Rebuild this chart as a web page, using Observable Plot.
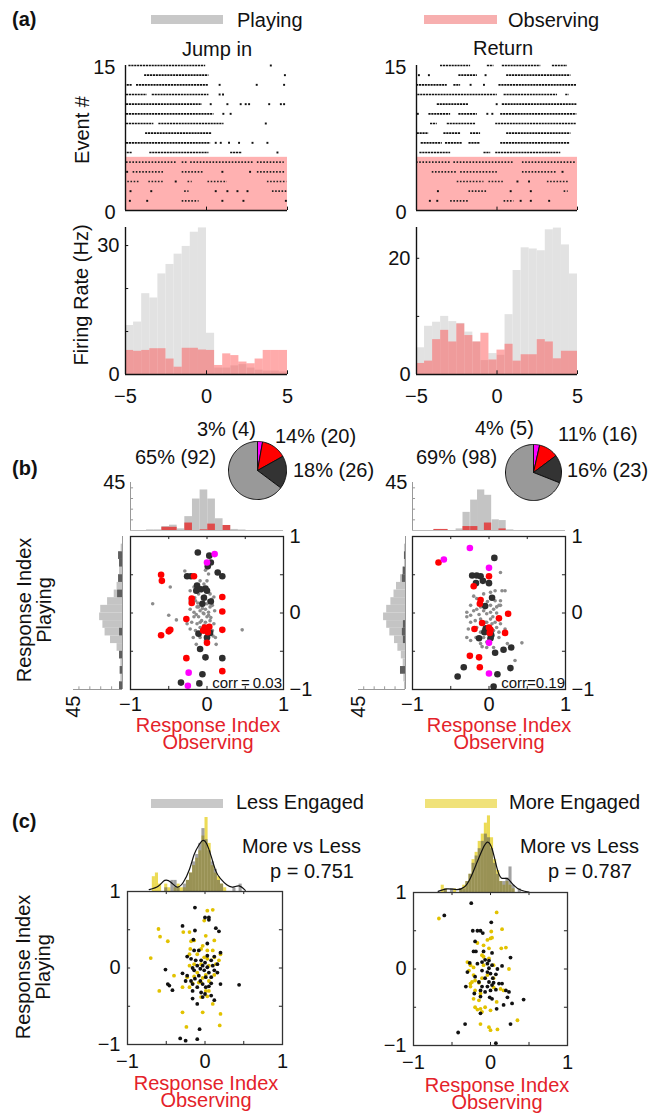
<!DOCTYPE html>
<html><head><meta charset="utf-8">
<script src="https://cdn.jsdelivr.net/npm/d3@7"></script>
<script src="https://cdn.jsdelivr.net/npm/@observablehq/plot@0.6"></script>
<style>
body{margin:0;background:#fff;}
#fig{position:relative;width:652px;height:1113px;overflow:hidden;font-family:"Liberation Sans",Arial,Helvetica,sans-serif;background:#fff;}
.lbl{position:absolute;white-space:nowrap;line-height:0.8;font-size:20px;color:#111;}
.blk{position:absolute;white-space:pre;text-align:center;font-size:20px;line-height:16.5px;transform:translate(-50%,0);}
.sw{position:absolute;}
</style></head><body><div id="fig"></div><script>
// ================= DATA =================
const legendA = ["Playing", "Observing"];
const titlesA = ["Jump in", "Return"];
const eventTicks = [0, 15];
const timeTicks = [-5, 0, 5];
const observingEvents = [{from: 0, to: 5.5}];
// raster: [event row, burst start, burst end] (s)
const jumpBursts = [
[15,-4.79,-0.05],[14,-3.82,0.15],[13,-4.9,-4.59],[13,-4.32,0.15],[12,-4.94,-3.66],[12,-3.35,0.15],
[11,-4.94,-0.26],[10,-4.94,0.46],[9,-4.94,-3.25],[9,-2.94,1.08],[8,-3.76,0.36],[7,-4.94,0.26],
[6,-4.9,-4.59],[6,-3.5,0.15],[6,1.49,2.22],
[5,-4.94,-1.8],[5,-1.5,-1.2],[5,-0.98,2.94],[5,3.14,4.8],
[4,-4.53,-2.63],[4,-1.5,-0.15],[4,3.14,4.9],
[3,-4.86,-4.07],[3,-3.56,-2.63],[3,-1.14,-0.88],[3,0.09,1.29],[3,3.76,4.96],
[2,-1.35,-1.08],[2,4.07,4.96],[1,-1.5,-0.46]];
const jumpSpikes = [
[15,3.97],[14,4.84],[13,0.81],[13,3.1],[13,4.79],[12,0.81],[12,1.02],
[11,0.26],[11,1.29],[11,2.11],[11,2.42],[11,2.63],[11,3.87],[11,4.59],[11,4.79],
[10,1.04],[10,1.49],[9,3.66],[7,0.57],[7,0.88],[7,1.39],[7,2.01],[7,2.84],[7,3.76],[6,4.38],
[4,-4.9],[4,0.98],[4,2.69],[3,-1.9],
[2,-4.69],[2,-3.41],[2,0.57],[2,1.29],[2,1.91],[2,2.53],
[1,-4.73],[1,-3.66],[1,0.98],[1,2.28],[1,4.9]];
const returnBursts = [
[15,-3.51,-1.64],[15,-0.6,-0.19],[15,0.33,2.72],[15,3.44,4.38],
[14,-2.37,-1.22],[14,0.6,4.59],
[13,-5,-3.09],[13,-2.68,-2.26],[13,0.12,4.96],
[12,-4.92,0.02],[12,0.44,3.76],[12,4.27,4.48],
[11,-3.71,-1.74],[11,0.33,4.96],
[10,-4.23,-2.88],[10,-2.37,-1.22],[10,0.23,4.96],
[9,-4.13,-3.71],[9,-3.09,-1.33],[9,-0.08,4.96],
[8,-4.96,-4.23],[8,-3.3,-2.26],[8,-1.64,-1.02],[8,0.6,4.59],
[7,-4.71,-3.4],[7,-3.2,-2.16],[7,-1.74,-1.02],[7,0.23,4.54],
[6,-4.79,-2.88],[6,-0.81,-0.39],[6,-0.08,3.96],
[5,-5,-2.88],[5,-2.68,1.02],[5,1.58,4.96],
[4,-4.02,-2.47],[4,-2.26,0.02],[4,1.58,3.76],
[3,-2.47,-0.81],[3,-0.5,0.44],[3,3.13,4.48],
[2,-1.74,-0.6],[2,4.17,4.42],[1,-2.88,-1.74],[1,0.44,1.06]];
const returnSpikes = [
[14,-4.85],[14,-4.23],[14,-0.71],[13,-1.64],[13,-0.81],[11,-0.02],
[10,-4.92],[10,-0.6],[10,-0.29],[4,4.07],[3,1.27],[3,1.99],
[2,-3.67],[2,0.85],[2,2.1],[1,-4.17],[1,-3.71],[1,1.47],[1,2.1],[1,3.24]];
// firing rate histograms (Hz), 0.5 s bins
const rateBinEdges = [-5,-4.5,-4,-3.5,-3,-2.5,-2,-1.5,-1,-0.5,0,0.5,1,1.5,2,2.5,3,3.5,4,4.5,5];
const jumpPlaying   = [11.4,12.2,18.8,17.8,23.4,25.6,28,29.8,33.1,34.1,9.6,1.5,1.5,2.0,2.3,1.5,1.0,0.8,0.8,0.6];
const jumpObserving = [5.6,5.4,5.6,6.0,6.0,3.6,1.7,6.1,6.1,5.7,5.6,2.1,4.8,4.4,2.9,2.5,3.6,5.6,5.6,5.6];
const returnPlaying   = [4.6,8.3,9.0,10.0,9.1,8.8,7.3,5.6,2.4,3.6,3.3,10.3,17.9,21.8,21.6,21.3,24.9,25.2,22.3,17.3];
const returnObserving = [1.9,2.3,6.0,7.6,5.6,8.7,6.7,5.6,7.1,2.5,4.2,5.2,2.3,3.4,3.4,6.0,5.6,2.7,4.0,4.0];
const jumpRateTicks = [0, 30], jumpRateMinor = [10, 20, 30], jumpRateMax = 34.2;
const returnRateTicks = [0, 20], returnRateMinor = [10, 20], returnRateMax = 25.3;
// pies
const pieColors = ["#ff00ff", "#ff0000", "#333333", "#999999"];
const jumpPieCounts = [4, 20, 26, 92];
const jumpPieLabels = ["3% (4)", "14% (20)", "18% (26)", "65% (92)"];
const returnPieCounts = [5, 16, 23, 98];
const returnPieLabels = ["4% (5)", "11% (16)", "16% (23)", "69% (98)"];
// (b) marginal histograms (counts)
const histMaxB = 45, histMinorB = [10, 20, 30, 40];
const obsStartsJ = [-0.79,-0.69,-0.59,-0.49,-0.39,-0.29,-0.19,-0.09,0.01,0.11,0.21,0.31,0.41];
const obsAllJ    = [0.6,0.6,3.7,5,1.5,13,29.5,38,29.5,11,4.7,1,0.5];
const obsRespJ   = [0,0,3,3,0,7,0,0.6,6,0,4.7,0,0];
const obsWidthJ = 0.1;
const obsStartsR = [-0.72,-0.63,-0.53,-0.43,-0.34,-0.24,-0.15,-0.06,0.04,0.13,0.23];
const obsAllR    = [0.6,0.6,0,1.5,17,28.5,38,33,10,9.3,0.6];
const obsRespR   = [1,1,0,0,3.7,3.7,0,7,0,1.5,0];
const obsWidthR = 0.095;
const playStarts = [-1.0,-0.9,-0.8,-0.7,-0.6,-0.5,-0.4,-0.3,-0.2,-0.1,0.0,0.1,0.2,0.3,0.4,0.5,0.6,0.7,0.8];
const playAllJ  = [2.7,1.5,2.1,1.5,2.7,5,11,16,18,21,20,13.7,7.6,5,3.6,2.7,2.7,3.6,1.2];
const playRespJ = [2.7,0,2.1,0,2.7,0,0,2.7,0,0,0,0,4.5,0,3.6,0,2.7,3.6,0];
const playAllR  = [1,1.6,4.8,2.2,4,7.3,10.5,15,18,21,18,14,11,8.6,4.8,2.2,1,1,1];
const playRespR = [0,0,4.8,0,0,0,2,3,2,0,0,0,0,0,3,2.2,0,1,0];
const playWidth = 0.1;
// (b) scatter: [observing index, playing index]
const jumpNone = [[-0.29,0.55],[-0.48,0.34],[-0.71,0.12],[-0.50,-0.03],[-0.40,-0.09],[-0.17,0.01],[-0.13,0.08],[-0.09,0.03],[-0.04,-0.01],[-0.11,-0.05],[-0.07,-0.10],[-0.02,-0.12],[-0.13,-0.14],[-0.09,-0.19],[-0.15,-0.23],[-0.09,-0.32],[-0.02,-0.36],[0.12,-0.41],[0.04,-0.19],[0.09,-0.14],[0.10,0.03],[0.07,0.10],[0.02,0.16],[0.09,0.21],[0.04,0.25],[-0.04,0.38],[-0.09,0.42],[0.00,0.42],[0.02,0.51],[-0.17,0.34],[-0.22,0.16],[-0.15,0.16],[-0.11,0.25],[-0.02,0.05],[0.02,0.01],[-0.07,0.10],[-0.14,-0.02],[-0.20,-0.12],[-0.22,-0.21],[-0.13,-0.27],[-0.18,-0.32],[-0.14,-0.41],[-0.22,0.05],[-0.26,-0.14],[0.00,-0.05],[0.04,-0.10],[0.07,-0.23],[0.01,-0.27],[0.11,-0.32],[0.46,-0.22],[-0.07,0.29],[-0.02,0.56],[-0.22,0.29],[-0.09,-0.12],[-0.04,-0.16],[-0.11,0.08],[-0.17,-0.05],[0.04,0.08],[0.00,0.12],[-0.03,0.22],[-0.05,0.00],[0.02,-0.03],[-0.06,0.06],[0.05,-0.06],[-0.12,0.13],[0.06,0.18],[-0.03,-0.25],[0.08,-0.30],[-0.16,0.20],[0.00,0.30]];
const jumpPlay = [[-0.12,0.79],[0.03,0.75],[0.05,0.66],[0.01,0.61],[0.14,0.53],[0.20,0.48],[-0.26,0.48],[-0.21,0.48],[-0.13,0.36],[-0.02,0.32],[0,0.29],[-0.14,0.29],[-0.04,0.20],[-0.06,0.12],[-0.11,-0.27],[0.04,-0.26],[0,-0.32],[-0.09,-0.47],[-0.02,-0.58],[0.20,-0.59],[-0.06,-0.80],[-0.34,-0.91],[-0.10,-0.92],[-0.08,0.31],[0.05,0.15],[-0.02,-0.22]];
const jumpObs = [[-0.60,0.50],[-0.59,0.42],[-0.17,0.48],[-0.20,0.19],[-0.20,0.13],[0.20,0.21],[0.20,0.02],[-0.27,-0.08],[-0.03,-0.19],[0,-0.22],[-0.48,-0.22],[-0.50,-0.24],[-0.60,-0.29],[0.20,-0.22],[0,-0.39],[-0.27,-0.59],[0.20,-0.76],[0.01,-0.25],[-0.05,-0.23],[0.03,-0.18]];
const jumpBoth = [[0.10,0.77],[0,0.66],[-0.24,-0.78],[-0.25,-0.95]];
const returnNone = [[-0.29,-0.05],[-0.24,-0.03],[-0.20,0.03],[-0.16,0.05],[-0.11,0.08],[-0.07,0.03],[-0.03,-0.01],[0.02,0.01],[0.06,0.05],[0.10,0.08],[0.15,0.10],[-0.24,-0.12],[-0.18,-0.10],[-0.11,-0.08],[-0.05,-0.12],[0.04,-0.14],[0.08,-0.12],[0.15,-0.14],[-0.27,-0.21],[-0.16,-0.19],[0.06,-0.23],[0.13,-0.25],[-0.07,-0.32],[-0.03,-0.38],[-0.11,-0.40],[-0.24,-0.36],[0.06,-0.45],[0.24,-0.40],[0.34,-0.62],[0.43,-0.39],[0.15,0.53],[0.21,0.29],[0.17,0.29],[0.02,0.27],[-0.07,0.25],[0.08,0.16],[0.15,0.16],[0.13,0.10],[-0.16,0.19],[-0.24,0.10],[-0.29,0.01],[-0.07,-0.21],[-0.03,-0.12],[0.10,-0.19],[0.02,-0.08],[-0.11,-0.25],[-0.17,-0.32],[-0.09,-0.44],[-0.03,-0.45],[0.08,0.29],[-0.20,0.22],[0.21,-0.21],[-0.29,-0.32],[0.13,-0.32],[0.02,0.10],[0.05,-0.05],[-0.13,-0.02],[0.10,0.00],[-0.02,0.15],[0.00,-0.35]];
const returnPlay = [[0.07,0.72],[-0.22,0.49],[-0.16,0.49],[-0.11,0.48],[-0.17,0.39],[0,0.39],[0.04,0.20],[-0.05,0.09],[-0.06,-0.25],[0.02,-0.33],[-0.13,-0.33],[0.08,-0.52],[0.19,-0.48],[0.29,-0.45],[0.28,-0.72],[0.11,-0.80],[-0.33,-0.71],[-0.41,-0.83],[0.06,-0.96],[0.03,-0.29],[-0.08,0.42],[0.02,-0.27],[-0.04,-0.20]];
const returnObs = [[-0.66,0.66],[0,0.48],[-0.20,0.35],[-0.11,0.17],[-0.12,0.12],[0.13,-0.07],[0.25,-0.01],[-0.09,-0.13],[-0.19,-0.21],[0,-0.19],[0.01,-0.26],[0.21,-0.26],[-0.25,-0.56],[-0.13,-0.58],[-0.12,-0.71],[0.02,-0.22]];
const returnBoth = [[-0.25,0.85],[-0.59,0.70],[0,0.59],[0,-0.39],[0,-0.79]];
const corrLabels = ["corr\u2009=\u20090.03", "corr=0.19"];
const indexTicks = [-1, 0, 1], indexMinor = [-0.5, 0, 0.5];
// (c) engagement histograms, 0.04 bins
const engStarts = [-0.68,-0.64,-0.60,-0.56,-0.52,-0.48,-0.44,-0.40,-0.36,-0.32,-0.28,-0.24,-0.20,-0.16,-0.12,-0.08,-0.04,0.00,0.04,0.08,0.12,0.16,0.20,0.24,0.28,0.32,0.36,0.40,0.44,0.48];
const engWidth = 0.04, engMax = 20;
const jumpLess = [0,0,0,0,1,0,3,3,1,0,2,3,5,8,10,13,17,14,11,8,6,3,2,0,0,0,1,0,2,0];
const jumpMore = [4,5,2,0,2,1,0,1,2,1,1,3,5,7,9,11,15,20,13,7,5,4,2,1,0,0,0,0,0,0];
const returnLess = [0,0,1,0,1,0,0,1,1,3,5,8,10,12,14,16,15,12,8,5,3,3,4,7,2,0,1,0,0,0];
const returnMore = [0,2,1,0,0,1,0,1,2,3,5,9,11,14,16,19,21,15,9,6,3,2,3,2,1,0,0,0,0,0];
const jumpKde = [[-0.72,0.5],[-0.6,1.5],[-0.52,3],[-0.44,2.5],[-0.36,1.2],[-0.28,2.5],[-0.2,6],[-0.14,10],[-0.08,12.5],[-0.03,13.8],[0.02,13],[0.08,9.5],[0.14,5.5],[0.2,3.5],[0.28,1.8],[0.36,1.2],[0.44,1.5],[0.52,0.3]];
const returnKde = [[-0.68,0.3],[-0.56,1],[-0.44,0.8],[-0.34,1.5],[-0.26,4],[-0.18,8],[-0.1,12],[-0.04,13.8],[0.02,12],[0.08,7],[0.14,4],[0.22,3.8],[0.3,2],[0.4,0.6],[0.5,0.1]];
const pLabels = ["p = 0.751", "p = 0.787"];
// (c) scatter: [observing index, playing index]
const jumpLessPts = [[-0.13,0.79],[0.00,0.66],[0.05,0.66],[0.05,0.63],[-0.29,0.55],[-0.13,0.49],[0.14,0.52],[0.18,0.48],[-0.15,0.37],[0.03,0.32],[-0.14,0.23],[-0.08,0.23],[-0.23,0.15],[0.03,0.16],[0.12,0.15],[0.20,0.20],[-0.18,0.12],[-0.12,0.10],[-0.05,0.10],[0.00,0.07],[0.08,0.10],[-0.10,0.03],[-0.03,0.03],[0.03,0.01],[0.10,0.03],[0.16,0.05],[-0.16,0.00],[-0.06,-0.01],[-0.51,-0.02],[-0.29,-0.07],[-0.14,-0.03],[-0.01,-0.03],[0.05,-0.06],[0.12,-0.03],[-0.23,-0.10],[-0.08,-0.10],[0.08,-0.12],[-0.48,-0.21],[-0.46,-0.23],[-0.42,-0.29],[-0.16,-0.21],[-0.10,-0.25],[-0.03,-0.21],[0.01,-0.25],[0.05,-0.24],[0.08,-0.20],[-0.16,-0.30],[-0.05,-0.32],[0.00,-0.34],[0.08,-0.36],[-0.16,-0.40],[-0.03,-0.38],[0.12,-0.42],[-0.10,-0.47],[0.44,-0.22],[-0.25,-0.17],[-0.18,-0.17],[-0.06,-0.17],[-0.13,-0.14],[-0.07,-0.80],[-0.32,-0.92],[-0.25,-0.95],[-0.10,-0.93],[0.20,-0.21],[0.16,-0.06],[0.01,-0.12]];
const jumpMorePts = [[0.03,0.75],[0.10,0.76],[-0.01,0.62],[-0.60,0.51],[-0.28,0.47],[-0.20,0.47],[-0.58,0.41],[-0.48,0.35],[0.01,0.42],[-0.18,0.35],[-0.14,0.36],[0.12,0.36],[-0.19,0.25],[-0.03,0.29],[-0.05,0.25],[0.03,0.23],[0.10,0.23],[-0.70,0.13],[-0.20,0.18],[-0.10,0.18],[-0.01,0.14],[0.03,0.12],[0.12,0.14],[-0.05,0.05],[0.05,0.03],[0.14,0.05],[0.20,0.18],[0.18,0.10],[-0.14,0.05],[-0.20,0.03],[-0.10,-0.06],[0.01,-0.09],[0.12,-0.09],[-0.40,-0.10],[-0.23,-0.12],[-0.14,-0.11],[-0.03,-0.13],[0.05,-0.17],[-0.16,-0.20],[-0.05,-0.19],[-0.59,-0.30],[-0.29,-0.25],[-0.20,-0.25],[0.01,-0.30],[0.05,-0.30],[-0.05,-0.38],[0.03,-0.37],[-0.29,-0.58],[-0.03,-0.58],[0.20,-0.60],[-0.24,-0.77],[0.19,-0.75],[0.10,-0.47],[-0.08,-0.19]];
const returnLessPts = [[-0.25,0.86],[-0.60,0.70],[0.01,0.61],[-0.23,0.50],[-0.17,0.50],[-0.13,0.50],[-0.10,0.47],[-0.20,0.36],[-0.22,0.23],[-0.19,0.23],[-0.09,0.23],[0.02,0.21],[0.26,0.15],[-0.07,0.12],[-0.02,0.11],[-0.11,0.09],[-0.17,0.07],[-0.04,0.07],[0.02,0.05],[0.15,0.04],[0.09,0.00],[-0.27,0.08],[-0.30,-0.04],[-0.11,-0.02],[-0.04,-0.04],[0.00,-0.06],[0.07,-0.07],[-0.20,-0.10],[-0.07,-0.12],[-0.15,-0.17],[-0.02,-0.17],[0.04,-0.18],[0.11,-0.19],[-0.11,-0.23],[-0.04,-0.23],[0.02,-0.21],[-0.32,-0.23],[-0.21,-0.32],[-0.13,-0.28],[-0.07,-0.30],[0.00,-0.28],[0.07,-0.27],[0.15,-0.19],[0.20,-0.28],[0.24,-0.30],[-0.13,-0.36],[-0.01,-0.37],[0.02,-0.39],[0.22,-0.37],[0.28,-0.45],[0.17,-0.47],[0.08,-0.52],[0.43,-0.40],[-0.13,-0.58],[-0.33,-0.72],[-0.42,-0.83],[0.26,-0.72],[0.07,-0.97],[-0.02,0.01],[0.03,-0.12]];
const returnMorePts = [[-0.67,0.66],[0.08,0.74],[0.15,0.52],[0.01,0.49],[0.00,0.40],[-0.04,0.38],[0.02,0.41],[-0.17,0.34],[-0.09,0.31],[-0.02,0.27],[0.20,0.28],[0.14,0.27],[-0.11,0.18],[-0.09,0.16],[-0.02,0.14],[0.24,0.00],[-0.30,0.09],[-0.26,0.05],[-0.28,-0.02],[-0.22,0.02],[-0.09,0.05],[0.04,0.05],[-0.22,-0.08],[-0.20,-0.15],[-0.24,-0.17],[-0.15,-0.18],[-0.26,-0.19],[-0.04,-0.08],[-0.11,-0.12],[0.04,-0.12],[-0.26,-0.23],[-0.20,-0.28],[-0.13,-0.32],[0.04,-0.24],[0.13,-0.26],[0.17,-0.28],[-0.22,-0.39],[-0.15,-0.41],[-0.20,-0.50],[-0.13,-0.52],[-0.07,-0.50],[-0.11,-0.56],[0.00,-0.54],[0.08,-0.43],[-0.13,-0.72],[-0.02,-0.76],[0.00,-0.80],[0.09,-0.79],[0.35,-0.67],[-0.17,-0.53]];
const xTitle = "Response Index\nObserving";

// ================= HELPERS =================
const FONT = '"Liberation Sans", Arial, Helvetica, sans-serif';
const fmt = d3.format("~g");
const fig = document.getElementById("fig");
function chart(rect, m, opts) {
  const [x0, y0, x1, y1] = rect;
  const svg = Plot.plot({
    width: x1 - x0 + m[1] + m[3], height: y1 - y0 + m[0] + m[2],
    marginTop: m[0], marginRight: m[1], marginBottom: m[2], marginLeft: m[3],
    style: {fontFamily: FONT, fontSize: "20px", color: "#111", background: "transparent", overflow: "visible"},
    ...opts
  });
  svg.style.position = "absolute";
  svg.style.left = (x0 - m[3]) + "px";
  svg.style.top = (y0 - m[0]) + "px";
  svg.style.maxWidth = "none";
  fig.appendChild(svg);
}
function label(text, x, y, o = {}) {
  const d = document.createElement("div");
  d.className = "lbl";
  d.textContent = text;
  d.style.fontSize = (o.size || 20) + "px";
  d.style.color = o.color || "#111";
  if (o.bold) d.style.fontWeight = "bold";
  d.style.left = x + "px"; d.style.top = y + "px";
  const tx = o.anchor === "start" ? "0" : o.anchor === "end" ? "-100%" : "-50%";
  d.style.transform = `translate(${tx},-50%)` + (o.rotate ? ` rotate(${o.rotate}deg)` : "");
  fig.appendChild(d);
}
function block(text, x, top, color) {
  const d = document.createElement("div");
  d.className = "blk";
  d.textContent = text;
  d.style.color = color;
  d.style.left = x + "px"; d.style.top = top + "px";
  fig.appendChild(d);
}
function swatch(x0, y0, x1, y1, color) {
  const d = document.createElement("div");
  d.className = "sw";
  Object.assign(d.style, {left: x0 + "px", top: y0 + "px", width: (x1 - x0) + "px", height: (y1 - y0) + "px", background: color});
  fig.appendChild(d);
}
const RED = "#e4222a";
const binsOf = (edges, a, b) => a.map((v, i) => ({x1: edges[i], x2: edges[i + 1], a: v, b: b[i]}));
const binsW = (starts, w, a, b) => starts.map((s, i) => ({x1: s, x2: s + w, a: a[i], b: b[i]}));

// ================= PANEL (a) =================
label("(a)", 12, 19, {anchor: "start", bold: true});
swatch(151, 15, 223, 24, "#c8c8c8"); label(legendA[0], 237, 20, {anchor: "start"});
swatch(424, 15, 497, 24, "#f7afaf"); label(legendA[1], 508, 20, {anchor: "start"});
label(titlesA[0], 217, 49); label(titlesA[1], 503, 48);
label("Event #", 82, 130, {rotate: -90});
label("Firing Rate (Hz)", 81, 295, {rotate: -90});

function raster(rect, bursts, spikes) {
  const obsTop = observingEvents[0].to;
  chart(rect, [8, 8, 8, 40], {
    x: {domain: [timeTicks[0], timeTicks[2]], axis: null},
    y: {domain: [eventTicks[0], eventTicks[1]], axis: null},
    marks: [
      Plot.rect(observingEvents, {y1: "from", y2: "to", fill: "#ff4545", fillOpacity: 0.42}),
      Plot.ruleY(bursts.filter(d => d[0] > obsTop), {y: d => d[0], x1: d => d[1], x2: d => d[2], stroke: "#111", strokeWidth: 1.6, strokeDasharray: "2.2,0.7"}),
      Plot.ruleY(bursts.filter(d => d[0] <= obsTop), {y: d => d[0], x1: d => d[1], x2: d => d[2], stroke: "#222", strokeWidth: 1.6, strokeDasharray: "1.6,1.6"}),
      Plot.dot(spikes, {x: d => d[1], y: d => d[0], r: 1.1, symbol: "square", fill: "#111"}),
      Plot.ruleX([timeTicks[0]], {stroke: "#111", strokeWidth: 1.4}),
      Plot.ruleY([eventTicks[0]], {stroke: "#111", strokeWidth: 1.4}),
      Plot.ruleX(timeTicks, {y1: 0, y2: 0.35, stroke: "#111"}),
      Plot.axisY({ticks: eventTicks, tickSize: 0, tickPadding: 10, dy: 2})
    ]
  });
}
raster([125, 65, 287, 210], jumpBursts, jumpSpikes);
raster([416, 65, 577, 210], returnBursts, returnSpikes);

function rates(rect, play, obs, ticks, minor, ymax) {
  const data = binsOf(rateBinEdges, play, obs);
  chart(rect, [8, 8, 30, 40], {
    x: {domain: [timeTicks[0], timeTicks[2]], axis: null},
    y: {domain: [0, ymax], axis: null},
    marks: [
      Plot.rectY(data, {x1: "x1", x2: "x2", y: "a", fill: "#e2e2e2"}),
      Plot.rectY(data, {x1: "x1", x2: "x2", y: "b", fill: "#ff4545", fillOpacity: 0.45}),
      Plot.ruleX([timeTicks[0]], {stroke: "#111", strokeWidth: 1.4}),
      Plot.ruleY([0], {stroke: "#111", strokeWidth: 1.4}),
      Plot.ruleY(minor, {x1: timeTicks[0], x2: timeTicks[0] + 0.2, stroke: "#111"}),
      Plot.ruleX(timeTicks, {y1: 0, y2: ymax * 0.025, stroke: "#111"}),
      Plot.axisY({ticks, tickSize: 0, tickPadding: 6, tickFormat: fmt}),
      Plot.axisX({ticks: timeTicks, tickSize: 0, tickPadding: 14, tickFormat: fmt})
    ]
  });
}
rates([125, 227, 287, 374], jumpPlaying, jumpObserving, jumpRateTicks, jumpRateMinor, jumpRateMax);
rates([416, 227, 577, 374], returnPlaying, returnObserving, returnRateTicks, returnRateMinor, returnRateMax);

// ================= PANEL (b) =================
label("(b)", 12, 468, {anchor: "start", bold: true});
function pie(rect, counts) {
  const arcs = d3.pie().sort(null)(counts);
  const pts = [];
  arcs.forEach((a, i) => {
    const n = Math.max(2, Math.ceil((a.endAngle - a.startAngle) / 0.04));
    pts.push({s: i, x: 0, y: 0, c: pieColors[i]});
    for (let k = 0; k <= n; k++) {
      const t = a.startAngle + (a.endAngle - a.startAngle) * k / n;
      pts.push({s: i, x: Math.sin(t), y: Math.cos(t), c: pieColors[i]});
    }
    pts.push({s: i, x: 0, y: 0, c: pieColors[i]});
  });
  chart(rect, [2, 2, 2, 2], {
    x: {domain: [-1, 1], axis: null}, y: {domain: [-1, 1], axis: null},
    color: {type: "identity"},
    marks: [Plot.line(pts, {x: "x", y: "y", z: "s", fill: "c", stroke: "#111", strokeWidth: 1, strokeLinejoin: "round"})]
  });
}
pie([228, 441, 286, 499], jumpPieCounts);
pie([505, 444, 561, 500], returnPieCounts);
label(jumpPieLabels[0], 197, 429, {anchor: "start"});
label(jumpPieLabels[1], 275, 436, {anchor: "start"});
label(jumpPieLabels[2], 293, 470, {anchor: "start"});
label(jumpPieLabels[3], 135, 457, {anchor: "start"});
label(returnPieLabels[0], 475, 428, {anchor: "start"});
label(returnPieLabels[1], 558, 434, {anchor: "start"});
label(returnPieLabels[2], 567, 470, {anchor: "start"});
label(returnPieLabels[3], 416, 457, {anchor: "start"});

function topHist(rect, starts, w, all, resp) {
  const data = binsW(starts, w, all, resp);
  chart(rect, [6, 6, 2, 40], {
    x: {domain: [-1, 1], axis: null}, y: {domain: [0, histMaxB], axis: null},
    marks: [
      Plot.rectY(data, {x1: "x1", x2: "x2", y: "a", fill: "#c4c4c4"}),
      Plot.rectY(data, {x1: "x1", x2: "x2", y: "b", fill: "#e23b3b", fillOpacity: 0.88}),
      Plot.ruleY([0], {stroke: "#bbb"}),
      Plot.ruleX([-1], {y1: 0, y2: histMaxB, stroke: "#999"}),
      Plot.ruleY(histMinorB, {x1: -1, x2: -0.96, stroke: "#999"}),
      Plot.axisY({ticks: [histMaxB], tickSize: 0, tickPadding: 5, tickFormat: fmt})
    ]
  });
}
topHist([130, 482, 283, 530], obsStartsJ, obsWidthJ, obsAllJ, obsRespJ);
topHist([412, 482, 565, 530], obsStartsR, obsWidthR, obsAllR, obsRespR);

function sideHist(rect, all, resp) {
  const data = binsW(playStarts, playWidth, all, resp);
  chart(rect, [4, 4, 40, 6], {
    x: {domain: [histMaxB, 0], axis: null}, y: {domain: [-1, 1], axis: null},
    marks: [
      Plot.rectX(data, {y1: "x1", y2: "x2", x: "a", fill: "#c4c4c4"}),
      Plot.rectX(data, {y1: "x1", y2: "x2", x: "b", fill: "#5e5e5e"}),
      Plot.ruleX([0], {stroke: "#999"}),
      Plot.ruleY([-1], {x1: 0, x2: histMaxB, stroke: "#999"}),
      Plot.ruleX(histMinorB, {y1: -1, y2: -0.965, stroke: "#999"}),
      Plot.axisX({ticks: [histMaxB], tickSize: 0, tickPadding: 6, tickRotate: -90, tickFormat: fmt})
    ]
  });
}
sideHist([73, 536, 122, 689], playAllJ, playRespJ);
sideHist([358, 536, 405, 689], playAllR, playRespR);

function minorTicks(len) {
  return [
    Plot.ruleY(indexMinor, {x1: -1, x2: -1 + len, stroke: "#222"}),
    Plot.ruleY(indexMinor, {x1: 1 - len, x2: 1, stroke: "#222"}),
    Plot.ruleX(indexMinor, {y1: -1, y2: -1 + len, stroke: "#222"}),
    Plot.ruleX(indexMinor, {y1: 1 - len, y2: 1, stroke: "#222"})
  ];
}
function scatterB(rect, none, play, obs, both) {
  const dot = (d, r, fill) => Plot.dot(d, {x: p => p[0], y: p => p[1], r, fill});
  chart(rect, [6, 40, 36, 6], {
    x: {domain: [-1, 1], axis: null}, y: {domain: [-1, 1], axis: null},
    marks: [
      dot(none, 1.8, "#8c8c8c"),
      dot(play, 3.3, "#2e2e2e"),
      dot(obs, 3.3, "#ff0000"),
      dot(both, 3.3, "#ff00ff"),
      ...minorTicks(0.04),
      Plot.frame({stroke: "#222", strokeWidth: 1.3}),
      Plot.axisY({anchor: "right", ticks: indexTicks, tickSize: 0, tickPadding: 6, tickFormat: fmt}),
      Plot.axisX({ticks: indexTicks, tickSize: 0, tickPadding: 7, tickFormat: fmt})
    ]
  });
}
scatterB([130, 536, 283, 689], jumpNone, jumpPlay, jumpObs, jumpBoth);
scatterB([412, 536, 565, 689], returnNone, returnPlay, returnObs, returnBoth);
label(corrLabels[0], 282, 683, {anchor: "end", size: 15});
label(corrLabels[1], 565, 683, {anchor: "end", size: 15});
label("Response Index", 24, 610, {rotate: -90});
label("Playing", 44, 610, {rotate: -90});
block(xTitle, 208, 717, RED);
block(xTitle, 499, 717, RED);

// ================= PANEL (c) =================
label("(c)", 12, 821, {anchor: "start", bold: true});
swatch(151, 799, 223, 808, "#c8c8c8"); label("Less Engaged", 236, 802, {anchor: "start"});
swatch(425, 799, 497, 808, "#f0e27a"); label("More Engaged", 509, 802, {anchor: "start"});

function engHist(rect, less, more, kde) {
  const data = binsW(engStarts, engWidth, less, more);
  chart(rect, [4, 4, 0, 4], {
    x: {domain: [-1, 1], axis: null}, y: {domain: [0, engMax], axis: null},
    marks: [
      Plot.rectY(data, {x1: "x1", x2: "x2", y: "b", fill: "#e6cf1e", fillOpacity: 0.75}),
      Plot.rectY(data, {x1: "x1", x2: "x2", y: "a", fill: "#555555", fillOpacity: 0.55}),
      Plot.line(kde, {x: p => p[0], y: p => p[1], curve: "natural", stroke: "#111", strokeWidth: 1.2})
    ]
  });
}
engHist([127, 817, 282, 891], jumpLess, jumpMore, jumpKde);
engHist([413, 819, 567, 892], returnLess, returnMore, returnKde);
label("More vs Less", 242, 846, {anchor: "start"}); label(pLabels[0], 270, 871, {anchor: "start"});
label("More vs Less", 520, 846, {anchor: "start"}); label(pLabels[1], 548, 871, {anchor: "start"});

function scatterC(rect, less, more) {
  const dot = (d, fill) => Plot.dot(d, {x: p => p[0], y: p => p[1], r: 1.9, fill});
  chart(rect, [6, 6, 36, 40], {
    x: {domain: [-1, 1], axis: null}, y: {domain: [-1, 1], axis: null},
    marks: [
      dot(more, "#e2c200"),
      dot(less, "#111"),
      ...minorTicks(0.04),
      Plot.frame({stroke: "#333", strokeWidth: 1.3}),
      Plot.axisY({ticks: indexTicks, tickSize: 0, tickPadding: 7, tickFormat: fmt}),
      Plot.axisX({ticks: indexTicks, tickSize: 0, tickPadding: 9, tickFormat: fmt})
    ]
  });
}
scatterC([127, 891, 282, 1044], jumpLessPts, jumpMorePts);
scatterC([413, 892, 567, 1045], returnLessPts, returnMorePts);
label("Response Index", 23, 967, {rotate: -90});
label("Playing", 43, 967, {rotate: -90});
block(xTitle, 206, 1075, RED);
block(xTitle, 497, 1077, RED);
</script></body></html>
